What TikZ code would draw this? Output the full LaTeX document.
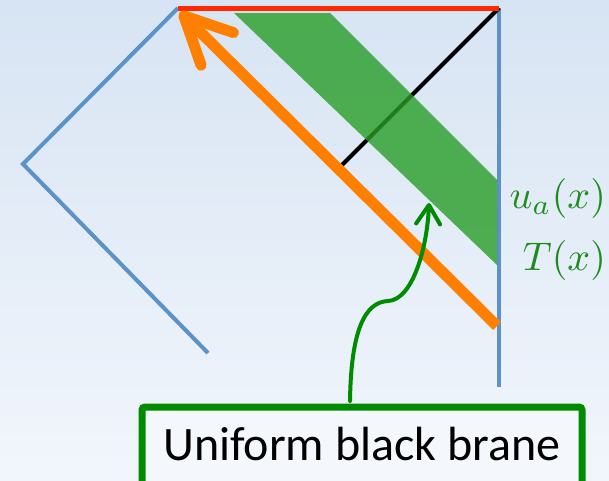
\documentclass[tikz,border=0pt]{standalone}
\usepackage{graphicx}
\usepackage{fontspec}
\newfontfamily\boxfont{Carlito}
\usetikzlibrary{arrows.meta}
\definecolor{bgtop}{RGB}{215,228,243}
\definecolor{bgbot}{RGB}{242,246,252}
\definecolor{lineblue}{RGB}{92,146,200}
\definecolor{linered}{RGB}{255,40,0}
\definecolor{lineorange}{RGB}{255,127,0}
\definecolor{bandgreen}{RGB}{40,157,39}
\definecolor{arrowgreen}{RGB}{0,140,0}
\definecolor{labelgreen}{RGB}{30,140,30}
\definecolor{boxfill}{RGB}{244,247,252}
\tikzset{
  blueline/.style={draw=lineblue, line width=4pt},
  mathlabel/.style={text=labelgreen, inner sep=0pt},
  brane/.style={draw=arrowgreen, line width=7pt, fill=boxfill, rounded corners=3pt,
                minimum width=440pt, minimum height=110pt, inner sep=0pt},
}
\begin{document}
\begin{tikzpicture}[x=1pt,y=-1pt]
\useasboundingbox (0,0) rectangle (609,480);
\shade[top color=bgtop, bottom color=bgbot] (0,0) rectangle (609,480);
\clip (0,0) rectangle (609,480);
% coordinates
\coordinate (P) at (178,8);
\coordinate (L) at (23,164);
\coordinate (B) at (208,353);
\coordinate (R) at (499,8);
\coordinate (Rb) at (499,387);
\coordinate (K) at (342,165);
\coordinate (G1) at (234,13);
\coordinate (G2) at (330,13);
\coordinate (G3) at (497,180);
\coordinate (G4) at (497,265);
\coordinate (Os) at (497,326);
\coordinate (Ot) at (180,12);
\coordinate (Cs) at (350,401);
\coordinate (Ct) at (429,203);
% blue boundary
\draw[blueline] (B) -- (L) -- (P);
\draw[blueline] (R) -- (Rb);
% black line
\draw[black, line width=4pt] (R) -- (K);
% green band
\fill[bandgreen, opacity=0.8] (G1) -- (G2) -- (G3) -- (G4) -- cycle;
% red line
\draw[linered, line width=5pt] (P) -- (R);
% orange arrow
\draw[lineorange, line width=11pt,
      -{Straight Barb[length=47pt, width=46pt, line cap=round, line join=round]}] (Os) -- (Ot);
% labels
\node[mathlabel, anchor=base east] (ua) at (606,208) {\scalebox{4.0}{$u_a(x)$}};
\node[mathlabel, anchor=base east] (tx) at (606,270) {\scalebox{4.0}{$T(x)$}};
% box
\node[brane, anchor=north] (box) at (362,403.5) {};
\node[anchor=base west, inner sep=0pt, font=\boxfont\fontsize{48}{48}\selectfont] (lbl) at (163,460) {Uniform black brane};
% green curved arrow
\draw[arrowgreen, line width=4pt, line cap=round,
      -{Straight Barb[length=19pt, width=24pt, line cap=round, line join=round]}]
  (Cs) .. controls (351,330) and (365,302) .. (388,301)
       .. controls (412,300) and (427,250) .. (Ct);
\end{tikzpicture}
\end{document}
